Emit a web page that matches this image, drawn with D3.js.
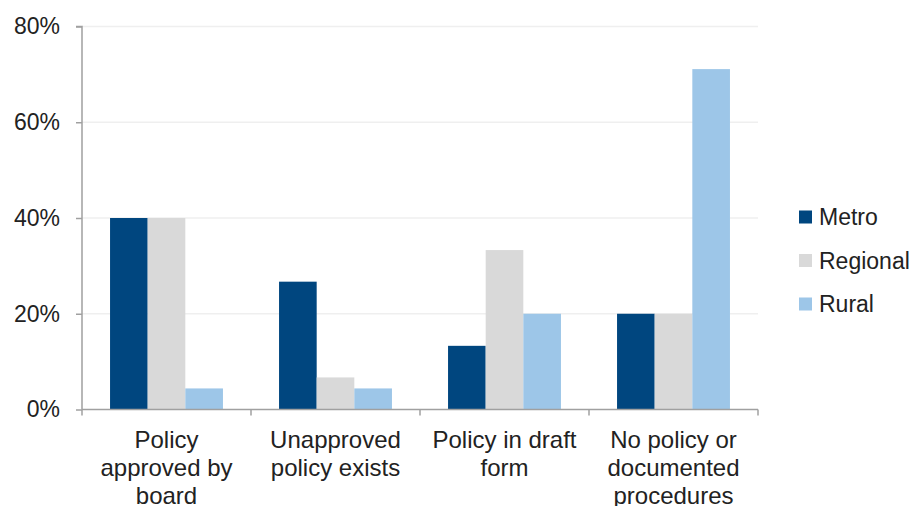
<!DOCTYPE html>
<html><head><meta charset="utf-8">
<script src="https://cdn.jsdelivr.net/npm/d3@7"></script>
<style>
html,body{margin:0;padding:0;background:#fff;}
svg{display:block;font-family:"Liberation Sans",Arial,sans-serif;}
</style></head>
<body><svg id="c" width="916" height="506"></svg>
<script>
const categories = [
  ["Policy", "approved by", "board"],
  ["Unapproved", "policy exists"],
  ["Policy in draft", "form"],
  ["No policy or", "documented", "procedures"]
];
const seriesNames = ["Metro", "Regional", "Rural"];
const metro    = [0.40, 0.267, 0.133, 0.20];
const regional = [0.40, 0.067, 0.333, 0.20];
const rural    = [0.044, 0.044, 0.20, 0.711];
const yTicks = [0, 0.2, 0.4, 0.6, 0.8];
const colors = ["#00467F", "#D9D9D9", "#9DC6E8"];

const seriesValues = [metro, regional, rural];
const svg = d3.select("#c");
const catIdx = d3.range(categories.length);

const x0 = d3.scaleBand().domain(catIdx).range([82, 758]).paddingInner(0).paddingOuter(0);
const x1 = d3.scaleBand().domain(d3.range(seriesNames.length)).range([0, x0.bandwidth()]).paddingInner(0).paddingOuter(0.745);
const y = d3.scaleLinear().domain([0, 0.8]).range([409.5, 26.5]);

// gridlines
svg.append("g").selectAll("line").data(yTicks.slice(1)).join("line")
  .attr("x1", 82).attr("x2", 758)
  .attr("y1", d => y(d)).attr("y2", d => y(d))
  .attr("stroke", "#EFEFEF").attr("stroke-width", 1.5);

// bars
const g = svg.append("g");
seriesValues.forEach((vals, si) => {
  g.append("g").selectAll("rect").data(vals).join("rect")
    .attr("x", (d, i) => x0(i) + x1(si))
    .attr("y", d => y(d))
    .attr("width", x1.bandwidth())
    .attr("height", d => y(0) - y(d))
    .attr("fill", colors[si]);
});

// y axis
const yAxis = d3.axisLeft(y).tickValues(yTicks).tickFormat(d3.format(".0%")).tickSize(6).tickPadding(16);
const ya = svg.append("g").attr("transform", "translate(82,0)").call(yAxis);
ya.select(".domain").attr("stroke", "#A0A0A0").attr("stroke-width", 1.5).attr("d", `M-6,${y(0.8)}H0V${y(0)}`);
ya.selectAll(".tick line").attr("stroke", "#A0A0A0").attr("stroke-width", 1.5);
ya.selectAll(".tick text").attr("fill", "#222222").style("font-size", "23px").style("font-family", '"Liberation Sans",Arial,sans-serif');

// x axis
const xa = svg.append("g");
xa.append("line").attr("x1", 82).attr("x2", 758).attr("y1", y(0)).attr("y2", y(0))
  .attr("stroke", "#A0A0A0").attr("stroke-width", 1.5);
const bounds = catIdx.map(i => x0(i)).concat([x0(catIdx.length - 1) + x0.bandwidth()]);
xa.selectAll("line.t").data(bounds).join("line").attr("class", "t")
  .attr("x1", d => d).attr("x2", d => d).attr("y1", y(0)).attr("y2", y(0) + 6)
  .attr("stroke", "#A0A0A0").attr("stroke-width", 1.5);

// category labels
const lab = svg.append("g").style("font-size", "24px").attr("fill", "#222222").attr("text-anchor", "middle");
categories.forEach((lines, i) => {
  const t = lab.append("text").attr("x", x0(i) + x0.bandwidth() / 2).attr("y", 448);
  lines.forEach((ln, k) => {
    t.append("tspan").attr("x", x0(i) + x0.bandwidth() / 2).attr("dy", k === 0 ? 0 : 27.8).text(ln);
  });
});

// legend
const lg = svg.append("g").attr("transform", "translate(799,217)");
seriesNames.forEach((n, i) => {
  const r = lg.append("g").attr("transform", `translate(0,${i * 43.5})`);
  r.append("rect").attr("x", 0).attr("y", -6.5).attr("width", 13).attr("height", 13).attr("fill", colors[i]);
  r.append("text").attr("x", 20).attr("y", 0).attr("dy", "0.36em").style("font-size", "23px").attr("fill", "#222222").text(n);
});
</script></body></html>
